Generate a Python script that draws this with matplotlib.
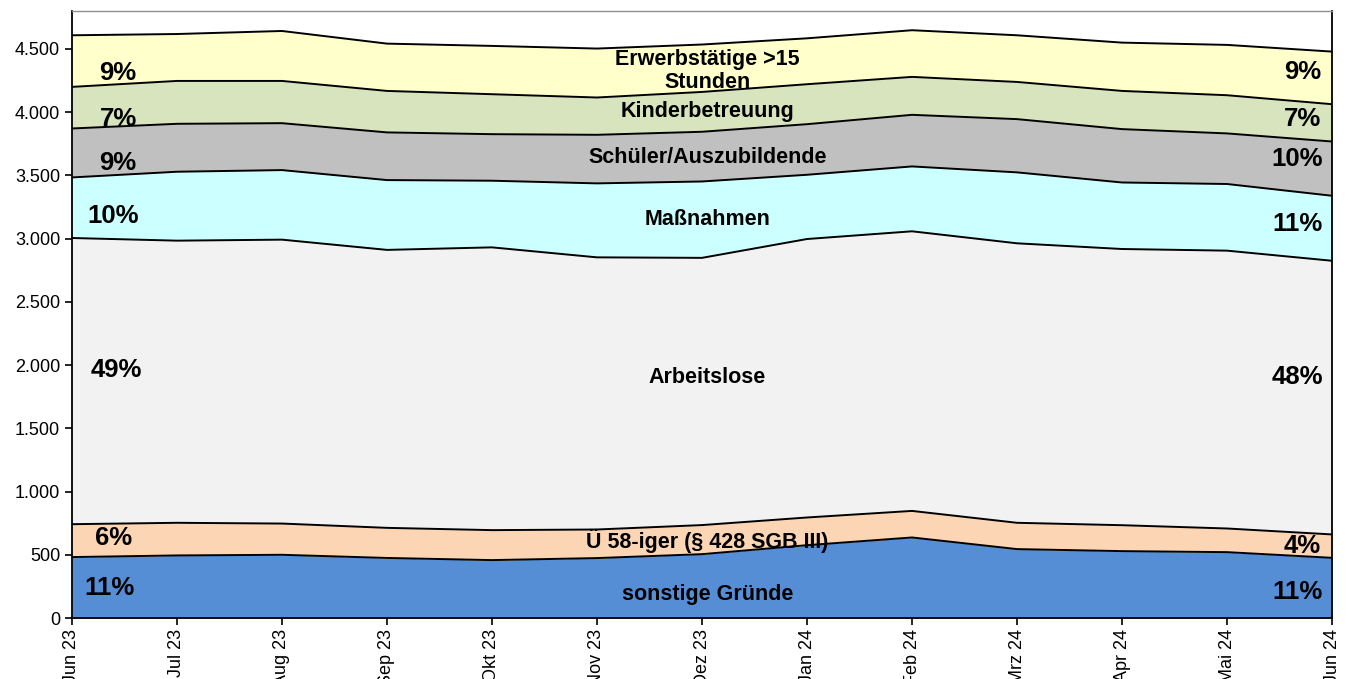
import numpy as np
import matplotlib
matplotlib.use("Agg")
import matplotlib.pyplot as plt
from matplotlib.ticker import FuncFormatter

plt.rcParams["font.family"] = ["Liberation Sans", "DejaVu Sans"]

months = ["Jun 23", "Jul 23", "Aug 23", "Sep 23", "Okt 23", "Nov 23", "Dez 23",
          "Jan 24", "Feb 24", "Mrz 24", "Apr 24", "Mai 24", "Jun 24"]

# layer values, bottom to top
sonstige = [482, 495, 500, 475, 458, 474, 505, 576, 637, 545, 529, 521, 476]
ue58 = [260, 258, 247, 238, 237, 226, 230, 219, 210, 208, 205, 187, 185]
arbeitslose = [2263, 2231, 2245, 2198, 2236, 2152, 2113, 2202, 2211, 2210, 2184, 2197, 2164]
massnahmen = [479, 545, 550, 552, 527, 585, 604, 508, 513, 561, 526, 527, 514]
schueler = [387, 379, 371, 377, 368, 384, 393, 400, 408, 421, 422, 400, 429]
kinder = [329, 339, 334, 328, 316, 295, 315, 316, 300, 294, 302, 302, 295]
erwerb = [408, 371, 395, 374, 382, 387, 375, 363, 369, 369, 382, 398, 416]

names = ["sonstige Gründe", "Ü 58-iger (§ 428 SGB III)", "Arbeitslose", "Maßnahmen",
         "Schüler/Auszubildende", "Kinderbetreuung", "Erwerbstätige >15\nStunden"]
colors = ["#558ED5", "#FCD5B5", "#F2F2F2", "#CCFFFF", "#C0C0C0", "#D7E4BD", "#FFFFCC"]
pct_first = ["11%", "6%", "49%", "10%", "9%", "7%", "9%"]
pct_last = ["11%", "4%", "48%", "11%", "10%", "7%", "9%"]

layers = np.array([sonstige, ue58, arbeitslose, massnahmen, schueler, kinder, erwerb], float)
x = np.arange(len(months))
tops = np.cumsum(layers, axis=0)
bottoms = tops - layers

fig = plt.figure(figsize=(13.53, 6.79), dpi=100)
ax = fig.add_axes([0.0532, 0.0898, 0.9313, 0.894])

for i in range(len(layers)):
    ax.fill_between(x, bottoms[i], tops[i], color=colors[i], lw=0, zorder=2)
    ax.plot(x, tops[i], color="black", lw=1.4, zorder=3)

# label anchor heights (data units)
y_first = [237, 632, 1958, 3181, 3600, 3947, 4310]
y_last = [206, 568, 1902, 3118, 3631, 3947, 4318]
y_mid = [189, 608, 1903, 3150, 3639, 4003, 4326]
x_first = [0.36, 0.4, 0.42, 0.39, 0.44, 0.44, 0.44]
x_last = [11.67, 11.72, 11.67, 11.67, 11.67, 11.72, 11.72]
for i in range(len(layers)):
    ax.text(x_first[i], y_first[i], pct_first[i], ha="center", va="center",
            fontsize=18.5, fontweight="bold", zorder=4)
    ax.text(x_last[i], y_last[i], pct_last[i], ha="center", va="center",
            fontsize=18.5, fontweight="bold", zorder=4)
    ax.text(6.05, y_mid[i], names[i], ha="center", va="center", fontsize=15.5,
            fontweight="bold", zorder=4, linespacing=1.1)

ax.set_xlim(0, 12)
ax.set_ylim(0, 4800)
ax.set_yticks(np.arange(0, 4501, 500))
ax.yaxis.set_major_formatter(FuncFormatter(lambda v, p: f"{int(v):,}".replace(",", ".")))
ax.set_xticks(x)
ax.set_xticklabels(months, rotation=90, va="top")
ax.tick_params(axis="both", labelsize=13, direction="out", length=5, width=1.2)
ax.tick_params(axis="x", pad=3)

for side in ["left", "bottom", "right"]:
    ax.spines[side].set_color("black")
    ax.spines[side].set_linewidth(1.3)
ax.spines["top"].set_color("#909090")
ax.spines["top"].set_linewidth(1.0)

fig.savefig("out.png", dpi=100)
plt.close(fig)
